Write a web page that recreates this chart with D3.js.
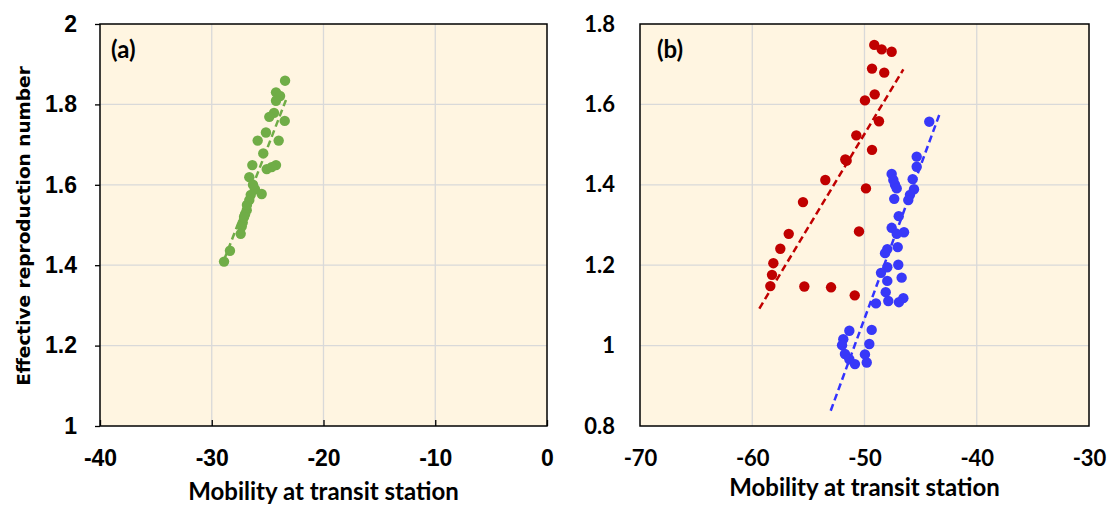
<!DOCTYPE html>
<html><head><meta charset="utf-8">
<script src="https://cdn.jsdelivr.net/npm/d3@7"></script>
<style>
body{margin:0;background:#fff;}
svg{display:block;}
</style></head>
<body><svg id="c" width="1112" height="507"></svg>
<script>
// Panel (a) data: mobility vs effective reproduction number
const aX = [-23.44,-24.25,-23.89,-24.25,-24.43,-24.85,-23.47,-25.15,-25.89,-24.01,-25.39,-26.37,-24.25,-25.08,-24.64,-26.64,-26.13,-25.53,-26.51,-26.64,-26.87,-27.02,-27.23,-27.32,-27.41,-28.37,-28.90,-26.31,-27.11,-26.85];
const aY = [1.859,1.830,1.821,1.809,1.779,1.769,1.759,1.730,1.710,1.710,1.678,1.649,1.649,1.639,1.644,1.619,1.589,1.577,1.575,1.562,1.537,1.527,1.506,1.496,1.478,1.436,1.409,1.600,1.520,1.550];
const aTrend = {x:[-28.90,-23.36], y:[1.413,1.811]};

// Panel (b) data: red series
const redX = [-49.13,-48.47,-47.58,-49.33,-48.24,-49.09,-49.96,-48.71,-50.73,-49.33,-51.71,-51.59,-53.49,-49.87,-55.48,-50.49,-56.75,-57.50,-58.12,-58.24,-58.39,-55.36,-52.98,-50.87];
const redY = [1.748,1.737,1.731,1.689,1.679,1.625,1.610,1.558,1.523,1.487,1.463,1.460,1.412,1.391,1.357,1.284,1.278,1.241,1.205,1.176,1.148,1.147,1.145,1.125];
const redTrend = {x:[-59.37,-46.54], y:[1.092,1.687]};
// Panel (b) data: blue series
const blueX = [-44.23,-45.35,-45.35,-47.58,-47.43,-47.28,-47.13,-45.71,-45.59,-45.95,-46.10,-47.35,-46.95,-47.58,-46.48,-47.13,-47.04,-47.97,-48.17,-46.99,-47.97,-48.53,-46.69,-47.97,-48.11,-46.54,-46.93,-47.88,-48.98,-51.35,-49.36,-51.89,-52.00,-49.57,-51.74,-51.35,-50.85,-49.96,-49.80];
const blueY = [1.557,1.470,1.445,1.427,1.412,1.400,1.391,1.414,1.389,1.375,1.362,1.365,1.322,1.293,1.282,1.278,1.245,1.240,1.230,1.201,1.195,1.181,1.169,1.161,1.133,1.118,1.108,1.111,1.105,1.037,1.039,1.016,1.001,1.004,0.979,0.966,0.954,0.978,0.958];
const blueTrend = {x:[-53.01,-43.34], y:[0.838,1.574]};

const aXTicks = [-40,-30,-20,-10,0];
const aYTicks = [1,1.2,1.4,1.6,1.8,2];
const bXTicks = [-70,-60,-50,-40,-30];
const bYTicks = [0.8,1,1.2,1.4,1.6,1.8];
const xTitle = "Mobility at transit station";
const yTitle = "Effective reproduction number";

const svg = d3.select("#c");
const BG = "#FFF5E1", GRID = "#D9D9D9";
const ARIAL = "'Liberation Sans', Arial, sans-serif";
const CAL = "Lato, 'Open Sans', sans-serif";

function panel(o){
  const x = d3.scaleLinear().domain(o.xd).range([o.l, o.r]);
  const y = d3.scaleLinear().domain(o.yd).range([o.b, o.t]);
  const g = svg.append("g");
  g.append("rect").attr("x",o.l).attr("y",o.t).attr("width",o.r-o.l).attr("height",o.b-o.t).attr("fill",BG);
  // grid
  g.selectAll(".gx").data(o.xt.slice(1,-1)).join("line")
    .attr("x1",d=>x(d)).attr("x2",d=>x(d)).attr("y1",o.t).attr("y2",o.b)
    .attr("stroke",GRID).attr("stroke-width",1.3);
  g.selectAll(".gy").data(o.yt.slice(1,-1)).join("line")
    .attr("y1",d=>y(d)).attr("y2",d=>y(d)).attr("x1",o.l).attr("x2",o.r)
    .attr("stroke",GRID).attr("stroke-width",1.3);
  // trendlines
  o.trends.forEach(tr=>{
    g.append("line").attr("x1",x(tr.x[0])).attr("y1",y(tr.y[0])).attr("x2",x(tr.x[1])).attr("y2",y(tr.y[1]))
      .attr("stroke",tr.c).attr("stroke-width",2.5).attr("stroke-dasharray","7,4");
  });
  // points
  o.series.forEach(s=>{
    g.append("g").selectAll("circle").data(s.xs.map((v,i)=>[v,s.ys[i]])).join("circle")
      .attr("cx",d=>x(d[0])).attr("cy",d=>y(d[1])).attr("r",5.2).attr("fill",s.c);
  });
  // frame
  g.append("rect").attr("x",o.l).attr("y",o.t).attr("width",o.r-o.l).attr("height",o.b-o.t)
    .attr("fill","none").attr("stroke","#000").attr("stroke-width",1.5);
  // axes
  const xa = d3.axisBottom(x).tickValues(o.xt).tickFormat(d=>String(d)).tickSize(o.xTickIn? -6:0).tickPadding(o.xPad);
  const xg = g.append("g").attr("transform",`translate(0,${o.b})`).call(xa);
  xg.select(".domain").remove();
  xg.selectAll("line").attr("stroke","#000").attr("stroke-width",1.3);
  xg.selectAll("text").attr("font-family",o.xFont).attr("font-weight","bold").attr("font-size",o.xFs).attr("fill","#000");
  const ya = d3.axisLeft(y).tickValues(o.yt).tickFormat(d=>String(+d.toFixed(1))).tickSize(o.yTickOut?5:0).tickPadding(o.yPad);
  const yg = g.append("g").attr("transform",`translate(${o.l},0)`).call(ya);
  yg.select(".domain").remove();
  yg.selectAll("line").attr("stroke","#000").attr("stroke-width",1.3);
  yg.selectAll("text").attr("font-family",o.yFont).attr("font-weight","bold").attr("font-size",o.yFs).attr("fill","#000");
  // labels
  g.append("text").attr("x",o.lx).attr("y",o.ly).text(o.label)
    .attr("font-family",CAL).attr("font-weight","bold").attr("font-size",24).attr("fill","#000");
  g.append("text").attr("x",(o.l+o.r)/2).attr("y",o.xty).attr("text-anchor","middle").text(xTitle)
    .attr("font-family",CAL).attr("font-weight","bold").attr("font-size",24).attr("fill","#000");
}

panel({l:100,r:547,t:24,b:426,xd:[-40,0],yd:[1,2],xt:aXTicks,yt:aYTicks,
  xTickIn:true,yTickOut:true,xPad:24,yPad:18,xFont:ARIAL,yFont:ARIAL,xFs:23,yFs:23,
  trends:[{...aTrend,c:"#70AD47"}],series:[{xs:aX,ys:aY,c:"#70AD47"}],
  label:"(a)",lx:111,ly:58,xty:500});
panel({l:640,r:1089,t:24,b:426,xd:[-70,-30],yd:[0.8,1.8],xt:bXTicks,yt:bYTicks,
  xTickIn:false,yTickOut:false,xPad:24,yPad:25,xFont:CAL,yFont:CAL,xFs:22,yFs:22,
  trends:[{...redTrend,c:"#C00000"},{...blueTrend,c:"#3333FF"}],
  series:[{xs:redX,ys:redY,c:"#C00000"},{xs:blueX,ys:blueY,c:"#3838F8"}],
  label:"(b)",lx:657,ly:58,xty:496});

svg.append("text").attr("transform","translate(23,226) rotate(-90)").attr("text-anchor","middle")
  .attr("dominant-baseline","central").text(yTitle)
  .attr("font-family","'DejaVu Sans', sans-serif").attr("font-weight","bold").attr("font-size",18.5).attr("fill","#000");
</script></body></html>
